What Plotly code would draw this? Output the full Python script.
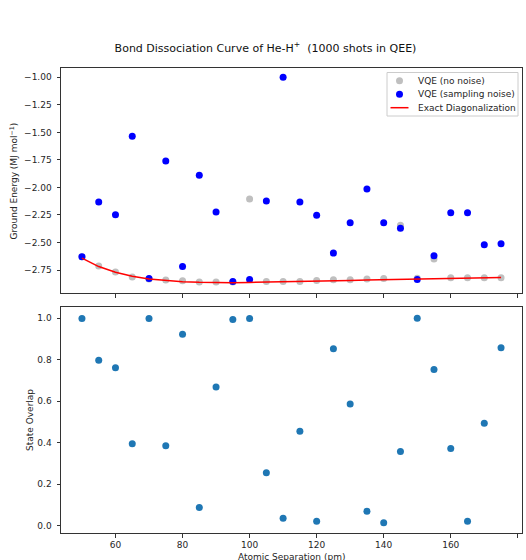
import plotly.graph_objects as go
from plotly.subplots import make_subplots

# Atomic separations (pm)
separation = [50, 55, 60, 65, 70, 75, 80, 85, 90, 95, 100, 105, 110,
              115, 120, 125, 130, 135, 140, 145, 150, 155, 160, 165, 170, 175]

# Ground energy (MJ/mol): VQE without noise
vqe_no_noise = [-2.630, -2.714, -2.768, -2.813, -2.830, -2.841, -2.847, -2.859,
                -2.859, -2.858, -2.105, -2.853, -2.853, -2.853, -2.844, -2.838,
                -2.838, -2.832, -2.826, -2.344, -2.825, -2.650, -2.820, -2.820,
                -2.820, -2.820]

# Ground energy (MJ/mol): VQE with sampling noise
vqe_sampling = [-2.629, -2.133, -2.248, -1.536, -2.826, -1.760, -2.717, -1.890,
                -2.223, -2.853, -2.835, -2.124, -1.000, -2.133, -2.253, -2.596,
                -2.321, -2.015, -2.321, -2.371, -2.835, -2.620, -2.230, -2.230,
                -2.520, -2.511]

# Ground energy (MJ/mol): exact diagonalization
exact_diag = [-2.641, -2.718, -2.770, -2.805, -2.830, -2.846, -2.856, -2.861,
              -2.864, -2.864, -2.862, -2.860, -2.857, -2.854, -2.851, -2.848,
              -2.844, -2.841, -2.838, -2.835, -2.832, -2.829, -2.826, -2.823,
              -2.820, -2.817]

# State overlap between noisy and exact ground states
state_overlap = [0.998, 0.797, 0.761, 0.394, 0.998, 0.385, 0.923, 0.087, 0.668,
                 0.994, 0.998, 0.255, 0.035, 0.455, 0.021, 0.853, 0.586, 0.069,
                 0.013, 0.357, 1.000, 0.753, 0.372, 0.021, 0.493, 0.857]

energy_ticks = [-1.00, -1.25, -1.50, -1.75, -2.00, -2.25, -2.50, -2.75]
overlap_ticks = [0.0, 0.2, 0.4, 0.6, 0.8, 1.0]
sep_ticks = [60, 80, 100, 120, 140, 160, 180]

series_names = ["VQE (no noise)", "VQE (sampling noise)", "Exact Diagonalization"]
GRAY, BLUE, RED, TAB_BLUE = "#bfbfbf", "#0000ff", "#ff0000", "#1f77b4"

W, H = 526, 560
ml, mr, mt, mb = 61, 4, 68, 27
plot_h = H - mt - mb
FONT = "DejaVu Sans"
TXT = "#262626"


def fy(py):
    """Pixel row -> paper y fraction."""
    return (H - mb - py) / plot_h


def fx(px):
    """Pixel column -> paper x fraction."""
    return (px - ml) / (W - ml - mr)


fig = make_subplots(rows=2, cols=1, shared_xaxes=True)

fig.add_trace(go.Scatter(x=separation, y=vqe_no_noise, mode="markers",
                         name=series_names[0],
                         marker=dict(color=GRAY, size=7, line=dict(width=0))),
              row=1, col=1)
fig.add_trace(go.Scatter(x=separation, y=vqe_sampling, mode="markers",
                         name=series_names[1],
                         marker=dict(color=BLUE, size=7, line=dict(width=0))),
              row=1, col=1)
fig.add_trace(go.Scatter(x=separation, y=exact_diag, mode="lines",
                         name=series_names[2],
                         line=dict(color=RED, width=1.5)),
              row=1, col=1)
fig.add_trace(go.Scatter(x=separation, y=state_overlap, mode="markers",
                         name="State Overlap",
                         marker=dict(color=TAB_BLUE, size=7, line=dict(width=0))),
              row=2, col=1)

axis_style = dict(showline=True, linecolor="#333333", linewidth=1, mirror=True,
                  ticks="outside", ticklen=3.5, tickcolor="#333333",
                  showgrid=False, zeroline=False,
                  tickfont=dict(family=FONT, size=9, color=TXT))

fig.update_xaxes(**axis_style, range=[43.75, 181.25], tickvals=sep_ticks,
                 ticklabelstandoff=0)
fig.update_xaxes(showticklabels=False, row=1, col=1)

fig.update_yaxes(**axis_style, ticklabelstandoff=3)
fig.update_yaxes(range=[-2.958, -0.916], tickvals=energy_ticks,
                 ticktext=[f"{v:.2f}".replace("-", "\u2212") for v in energy_ticks],
                 row=1, col=1)
fig.update_yaxes(range=[-0.036, 1.054], tickvals=overlap_ticks,
                 ticktext=[f"{v:.1f}" for v in overlap_ticks],
                 row=2, col=1)

annotations = [
    # axis titles
    dict(text="Ground Energy (MJ mol<sup>\u22121</sup>)", x=13.5, y=181, textangle=-90),
    dict(text="State Overlap", x=30, y=420, textangle=-90),
    dict(text="Atomic Separation (pm)", x=291, y=556.5, textangle=0),
]
for a in annotations:
    fig.add_annotation(text=a["text"], x=fx(a["x"]), y=fy(a["y"]),
                       xref="paper", yref="paper", showarrow=False,
                       textangle=a["textangle"], xanchor="center", yanchor="middle",
                       font=dict(family=FONT, size=9, color=TXT))

# Legend box drawn in pixel-aligned paper coordinates
lg_x0, lg_x1, lg_y0, lg_y1 = 387, 518, 72.5, 116
fig.add_shape(type="rect", xref="paper", yref="paper",
              x0=fx(lg_x0), x1=fx(lg_x1), y0=fy(lg_y1), y1=fy(lg_y0),
              line=dict(color="#cccccc", width=1), fillcolor="rgba(255,255,255,0.85)")
rows_y = [80.7, 94.3, 107.7]
for i, (name, col) in enumerate(zip(series_names, [GRAY, BLUE, RED])):
    yy = rows_y[i]
    if i < 2:
        fig.add_shape(type="circle", xref="paper", yref="paper",
                      x0=fx(399.5 - 3.5), x1=fx(399.5 + 3.5),
                      y0=fy(yy + 3.5), y1=fy(yy - 3.5),
                      line=dict(width=0), fillcolor=col)
    else:
        fig.add_shape(type="line", xref="paper", yref="paper",
                      x0=fx(390.5), x1=fx(408.5), y0=fy(yy), y1=fy(yy),
                      line=dict(color=col, width=1.5))
    fig.add_annotation(text=name, x=fx(415.5), y=fy(yy), xref="paper", yref="paper",
                       showarrow=False, xanchor="left", yanchor="middle",
                       font=dict(family=FONT, size=9, color=TXT))

fig.update_layout(
    width=W, height=H,
    margin=dict(l=ml, r=mr, t=mt, b=mb),
    paper_bgcolor="white", plot_bgcolor="white",
    font=dict(family=FONT, size=9, color=TXT),
    showlegend=False,
    title=dict(text="Bond Dissociation Curve of He-H<sup>+</sup>  (1000 shots in QEE)",
               x=265.5 / W, xanchor="center", xref="container",
               y=1 - 48 / H, yanchor="middle", yref="container",
               font=dict(family=FONT, size=11, color="#111111")),
    yaxis=dict(domain=[fy(293), 1.0]),
    yaxis2=dict(domain=[0.0, fy(307)]),
)

fig.write_html("out.html")
